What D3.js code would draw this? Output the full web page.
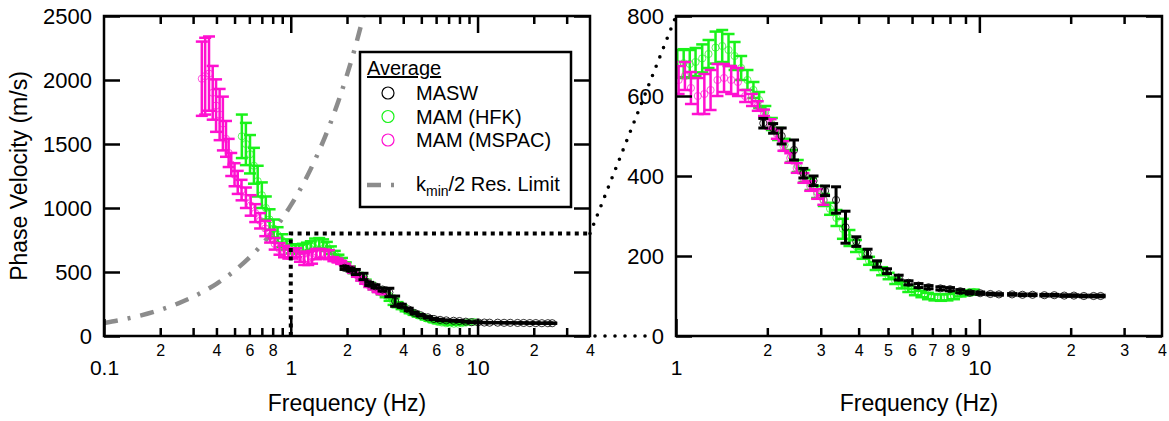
<!DOCTYPE html>
<html>
<head>
<meta charset="utf-8">
<script src="https://cdn.jsdelivr.net/npm/d3@7/dist/d3.min.js"></script>
<style>
  body { margin: 0; background: #fff; }
  text { font-family: "Liberation Sans", Arial, sans-serif; fill: #000; }
</style>
</head>
<body>
<script>
// ---- data ----------------------------------------------------------

const masFreq = [1.94, 2.09, 2.23, 2.45, 2.63, 2.84, 3.10, 3.37, 3.62, 3.93, 4.28, 4.60, 4.96, 5.42, 5.84, 6.30, 6.80, 7.44, 8.00, 8.65, 9.30, 10.06,
  10.87, 11.60, 12.82, 13.87, 14.97, 16.38, 17.66, 19.05, 20.5, 22.1, 23.8, 25.1]
const masVel = [532, 519, 500, 465, 407, 388, 363, 340, 272, 236, 207, 180, 162, 146, 133, 126, 122, 119, 117, 112, 108, 107,
  105, 104, 104, 103, 103, 102, 102, 101, 101, 100, 100, 100]
const masErr = [12, 12, 20, 25, 12, 12, 12, 33, 40, 12, 10, 8, 6, 6, 5, 5, 4, 4, 4, 4, 3, 3,
  2, 2, 2, 2, 2, 2, 2, 2, 2, 2, 2, 2]

const hfkFreq = [0.547, 0.575, 0.605, 0.635, 0.665, 0.70, 0.735, 0.77, 0.81, 0.85, 0.90, 0.95,
  1.01, 1.06, 1.11, 1.16, 1.22, 1.28, 1.35, 1.42, 1.49, 1.56, 1.64, 1.72, 1.80, 1.88, 1.97,
  2.07, 2.17, 2.28, 2.40, 2.52, 2.65, 2.78, 2.92, 3.07, 3.22, 3.38, 3.55, 3.73, 3.92,
  4.12, 4.33, 4.55, 4.78, 5.02, 5.28, 5.55, 5.83, 6.13, 6.44, 6.77, 7.11, 7.47, 7.85, 8.25, 8.67, 9.11, 9.58]
const hfkVel = [1560, 1500, 1420, 1330, 1210, 1100, 1000, 910, 840, 790, 745, 715,
  680, 682, 680, 685, 694, 705, 721, 725, 715, 700, 670, 640, 615, 590, 560,
  530, 505, 478, 450, 425, 400, 380, 360, 340, 318, 295, 268, 245, 225,
  205, 188, 175, 162, 150, 138, 127, 118, 110, 105, 100, 97, 96, 97, 100, 105, 108, 110]
const hfkErr = [170, 165, 150, 140, 120, 100, 90, 80, 70, 60, 50, 40,
  35, 35, 35, 35, 35, 35, 40, 40, 40, 35, 30, 25, 20, 20, 15,
  15, 15, 15, 15, 15, 15, 15, 15, 15, 15, 20, 25, 20, 15,
  12, 10, 10, 10, 8, 8, 8, 8, 8, 8, 8, 8, 8, 8, 8, 6, 6, 6]

const spacFreq = [0.334, 0.348, 0.365, 0.382, 0.398, 0.416, 0.433, 0.45, 0.465, 0.48, 0.50, 0.52, 0.545, 0.575,
  0.61, 0.645, 0.685, 0.73, 0.775, 0.82, 0.87, 0.92, 0.97,
  1.02, 1.07, 1.12, 1.18, 1.24, 1.30, 1.37, 1.44, 1.52, 1.60, 1.69, 1.78, 1.86, 1.95,
  2.05, 2.15, 2.26, 2.38, 2.50, 2.63, 2.77, 2.92, 3.06]
const spacVel = [2010, 2030, 2050, 1900, 1800, 1730, 1660, 1540, 1430, 1340, 1260, 1200, 1140, 1080,
  1020, 960, 900, 840, 780, 720, 680, 660, 645,
  640, 650, 620, 600, 605, 615, 640, 645, 640, 635, 600, 590, 575, 558,
  530, 505, 475, 445, 420, 395, 375, 355, 340]
const spacErr = [290, 300, 290, 210, 205, 200, 210, 140, 110, 90, 90, 90, 80, 80,
  80, 70, 60, 60, 50, 45, 45, 45, 40,
  35, 35, 40, 45, 50, 50, 40, 35, 35, 35, 15, 15, 12, 8,
  12, 12, 12, 12, 12, 12, 12, 12, 12]

// k_min/2 resolution limit
const limFreq = [0.1, 0.125, 0.15, 0.2, 0.25, 0.3, 0.4, 0.5, 0.6, 0.7, 0.8, 1.0, 1.2, 1.4, 1.6, 1.8, 2.0, 2.2, 2.45]
const limVel = [102, 128, 153, 204, 255, 306, 408, 510, 612, 714, 816, 1020, 1224, 1428, 1632, 1836, 2040, 2244, 2500]

// ---- axes ------------------------------------------------------------

const leftXDomain = [0.1, 40]
const leftYDomain = [0, 2500]
const leftYTicks = [0, 500, 1000, 1500, 2000, 2500]
const leftMinorTicks = [0.2, 0.3, 0.4, 0.5, 0.6, 0.7, 0.8, 0.9, 2, 3, 4, 5, 6, 7, 8, 9, 20, 30]
const leftMinorLabelTicks = [0.2, 0.4, 0.6, 0.8, 2, 4, 6, 8, 20, 40]
const leftMinorLabels = ['2', '4', '6', '8', '2', '4', '6', '8', '2', '4']
const leftMajorTicks = [0.1, 1, 10]
const leftMajorLabels = ['0.1', '1', '10']

const rightXDomain = [1, 40]
const rightYDomain = [0, 800]
const rightYTicks = [0, 200, 400, 600, 800]
const rightMinorTicks = [2, 3, 4, 5, 6, 7, 8, 9, 20, 30]
const rightMinorLabelTicks = [2, 3, 4, 5, 6, 7, 8, 9, 20, 30, 40]
const rightMinorLabels = ['2', '3', '4', '5', '6', '7', '8', '9', '2', '3', '4']
const rightMajorTicks = [1, 10]
const rightMajorLabels = ['1', '10']

const seriesNames = ['MASW', 'MAM (HFK)', 'MAM (MSPAC)']

// ---- styles ----------------------------------------------------------

const WIDTH = 1169
const HEIGHT = 421

const LEFT_BOX = { left: 104, right: 590, top: 16, bottom: 336 }
const RIGHT_BOX = { left: 676, right: 1162, top: 16, bottom: 336 }

const BLACK = '#000'
const GREEN = '#19f219'
const MAGENTA = '#ff10d0'
const GREY = '#8c8c8c'

const series = [
  { name: seriesNames[1], freq: hfkFreq, vel: hfkVel, err: hfkErr, color: GREEN, cap: 12, width: 2.5 },
  { name: seriesNames[2], freq: spacFreq, vel: spacVel, err: spacErr, color: MAGENTA, cap: 12, width: 2.5 },
  { name: seriesNames[0], freq: masFreq, vel: masVel, err: masErr, color: BLACK, cap: 10, width: 3 }
]

// ----------------------------------------------------------------------

const svg = d3.select('body').append('svg')
  .attr('width', WIDTH)
  .attr('height', HEIGHT)

svg.append('rect')
  .attr('width', WIDTH)
  .attr('height', HEIGHT)
  .attr('fill', 'white')

function styleAxis (g, size) {
  g.select('.domain').remove()
  g.selectAll('.tick line').attr('stroke', BLACK).attr('stroke-width', 2.5)
  g.selectAll('.tick text').attr('font-size', size).attr('fill', BLACK)
}

function drawSeries (g, x, y, s) {
  const pts = d3.range(s.freq.length).map(i => ({ f: s.freq[i], v: s.vel[i], e: s.err[i] }))
  const grp = g.append('g')
    .attr('stroke', s.color)
    .attr('fill', 'none')

  grp.selectAll('line.bar').data(pts).join('line')
    .attr('class', 'bar')
    .attr('stroke-width', s.width)
    .attr('x1', d => x(d.f)).attr('x2', d => x(d.f))
    .attr('y1', d => y(d.v - d.e)).attr('y2', d => y(d.v + d.e))

  grp.selectAll('line.capTop').data(pts).join('line')
    .attr('class', 'capTop')
    .attr('stroke-width', s.width)
    .attr('x1', d => x(d.f) - s.cap / 2).attr('x2', d => x(d.f) + s.cap / 2)
    .attr('y1', d => y(d.v + d.e)).attr('y2', d => y(d.v + d.e))

  grp.selectAll('line.capBot').data(pts).join('line')
    .attr('class', 'capBot')
    .attr('stroke-width', s.width)
    .attr('x1', d => x(d.f) - s.cap / 2).attr('x2', d => x(d.f) + s.cap / 2)
    .attr('y1', d => y(d.v - d.e)).attr('y2', d => y(d.v - d.e))

  grp.selectAll('circle').data(pts).join('circle')
    .attr('stroke-width', 1)
    .attr('opacity', s.color === BLACK ? 0.8 : 0.7)
    .attr('cx', d => x(d.f))
    .attr('cy', d => y(d.v))
    .attr('r', 3.6)
}

function drawPanel (p) {
  const x = d3.scaleLog().domain(p.xDomain).range([p.box.left, p.box.right])
  const y = d3.scaleLinear().domain(p.yDomain).range([p.box.bottom, p.box.top])
  const b = p.box

  svg.append('clipPath').attr('id', p.id)
    .append('rect')
    .attr('x', b.left).attr('y', b.top)
    .attr('width', b.right - b.left).attr('height', b.bottom - b.top)

  const plot = svg.append('g').attr('clip-path', `url(#${p.id})`)

  if (p.limit) {
    plot.append('path')
      .datum(d3.range(limFreq.length))
      .attr('d', d3.line().curve(d3.curveMonotoneX).x(i => x(limFreq[i])).y(i => y(limVel[i])))
      .attr('fill', 'none')
      .attr('stroke', GREY)
      .attr('stroke-width', 4.5)
      .attr('stroke-dasharray', '14,10,3,10')
  }

  series.forEach(s => drawSeries(plot, x, y, s))

  // bottom axis: minor ticks, minor labels, major ticks and labels
  svg.append('g').attr('transform', `translate(0,${b.bottom})`)
    .call(d3.axisBottom(x).tickValues(p.minorTicks).tickSize(-8).tickSizeOuter(0).tickFormat(''))
    .call(g => styleAxis(g, 16))
  svg.append('g').attr('transform', `translate(0,${b.bottom})`)
    .call(d3.axisBottom(x).tickValues(p.minorLabelTicks).tickSize(0).tickPadding(9)
      .tickFormat((d, i) => p.minorLabels[i]))
    .call(g => styleAxis(g, 16))
  svg.append('g').attr('transform', `translate(0,${b.bottom})`)
    .call(d3.axisBottom(x).tickValues(p.majorTicks).tickSize(-17).tickPadding(24)
      .tickFormat((d, i) => p.majorLabels[i]))
    .call(g => styleAxis(g, 21))

  // top axis mirror ticks
  svg.append('g').attr('transform', `translate(0,${b.top})`)
    .call(d3.axisTop(x).tickValues(p.minorTicks).tickSize(-8).tickFormat(''))
    .call(g => styleAxis(g, 16))
  svg.append('g').attr('transform', `translate(0,${b.top})`)
    .call(d3.axisTop(x).tickValues(p.majorTicks.slice(1)).tickSize(-17).tickFormat(''))
    .call(g => styleAxis(g, 16))

  // left axis with labels, right axis mirror ticks
  svg.append('g').attr('transform', `translate(${b.left},0)`)
    .call(d3.axisLeft(y).tickValues(p.yTicks).tickSize(-16).tickPadding(12).tickFormat(d3.format('d')))
    .call(g => styleAxis(g, 22))
  svg.append('g').attr('transform', `translate(${b.right},0)`)
    .call(d3.axisRight(y).tickValues(p.yTicks).tickSize(-16).tickFormat(''))
    .call(g => styleAxis(g, 16))

  svg.append('rect')
    .attr('x', b.left).attr('y', b.top)
    .attr('width', b.right - b.left).attr('height', b.bottom - b.top)
    .attr('fill', 'none')
    .attr('stroke', BLACK)
    .attr('stroke-width', 2.5)

  svg.append('text')
    .attr('x', (b.left + b.right) / 2)
    .attr('y', 411)
    .attr('text-anchor', 'middle')
    .attr('font-size', 23)
    .text('Frequency (Hz)')

  return { x, y }
}

const left = drawPanel({
  id: 'clipLeft', box: LEFT_BOX, xDomain: leftXDomain, yDomain: leftYDomain, yTicks: leftYTicks,
  minorTicks: leftMinorTicks, minorLabelTicks: leftMinorLabelTicks, minorLabels: leftMinorLabels,
  majorTicks: leftMajorTicks, majorLabels: leftMajorLabels, limit: true
})

const right = drawPanel({
  id: 'clipRight', box: RIGHT_BOX, xDomain: rightXDomain, yDomain: rightYDomain, yTicks: rightYTicks,
  minorTicks: rightMinorTicks, minorLabelTicks: rightMinorLabelTicks, minorLabels: rightMinorLabels,
  majorTicks: rightMajorTicks, majorLabels: rightMajorLabels, limit: false
})

svg.append('text')
  .attr('transform', 'translate(27,176) rotate(-90)')
  .attr('text-anchor', 'middle')
  .attr('font-size', 23)
  .text('Phase Velocity (m/s)')

// zoom box on the left panel and the connectors to the right panel
const zoomF = rightXDomain[0]
const zoomTopF = rightXDomain[1]
const zoomV = rightYDomain[1]

svg.append('path')
  .attr('d', d3.line()([
    [left.x(zoomF), left.y(0)],
    [left.x(zoomF), left.y(zoomV)],
    [left.x(zoomTopF), left.y(zoomV)]
  ]))
  .attr('fill', 'none')
  .attr('stroke', BLACK)
  .attr('stroke-width', 4)
  .attr('stroke-dasharray', '4,4.4')

svg.append('line')
  .attr('x1', left.x(zoomTopF)).attr('y1', left.y(zoomV))
  .attr('x2', right.x(zoomF)).attr('y2', right.y(zoomV))
  .attr('stroke', BLACK).attr('stroke-width', 3.6)
  .attr('stroke-linecap', 'round')
  .attr('stroke-dasharray', '0,10')

svg.append('line')
  .attr('x1', left.x(zoomTopF) + 5).attr('y1', left.y(0))
  .attr('x2', right.x(zoomF) - 28).attr('y2', right.y(0))
  .attr('stroke', BLACK).attr('stroke-width', 3.6)
  .attr('stroke-linecap', 'round')
  .attr('stroke-dasharray', '0,10')

// legend
const legend = svg.append('g')

legend.append('rect')
  .attr('x', 360).attr('y', 52)
  .attr('width', 211).attr('height', 155)
  .attr('fill', 'white')
  .attr('stroke', BLACK)
  .attr('stroke-width', 2.5)

legend.append('text')
  .attr('x', 367).attr('y', 75)
  .attr('font-size', 20)
  .attr('text-decoration', 'underline')
  .text('Average')

const legendItems = [series[2], series[0], series[1]]
legendItems.forEach((s, i) => {
  const cy = 93 + i * 23.5
  legend.append('circle')
    .attr('cx', 388).attr('cy', cy).attr('r', 6)
    .attr('fill', 'none')
    .attr('stroke', s.color)
    .attr('stroke-width', 1.2)
  legend.append('text')
    .attr('x', 416).attr('y', cy + 7)
    .attr('font-size', 20)
    .text(s.name)
})

legend.append('line')
  .attr('x1', 367).attr('x2', 398)
  .attr('y1', 185).attr('y2', 185)
  .attr('stroke', GREY)
  .attr('stroke-width', 4.5)
  .attr('stroke-dasharray', '14,10,3,10')

const limText = legend.append('text')
  .attr('x', 416).attr('y', 191)
  .attr('font-size', 20)
limText.append('tspan').text('k')
limText.append('tspan').attr('font-size', 14).attr('dy', 5).text('min')
limText.append('tspan').attr('dy', -5).text('/2 Res. Limit')
</script>
</body>
</html>
